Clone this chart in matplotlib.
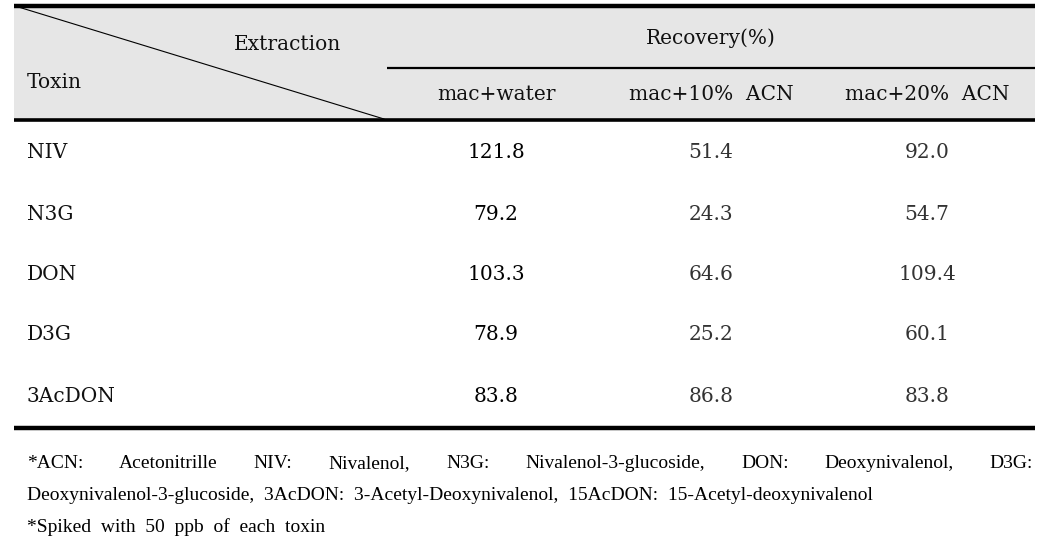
import matplotlib
matplotlib.use("Agg")
import matplotlib.pyplot as plt
from matplotlib.patches import Rectangle

toxins = ["NIV", "N3G", "DON", "D3G", "3AcDON"]
methods = ["mac+water", "mac+10%  ACN", "mac+20%  ACN"]
mac_water = [121.8, 79.2, 103.3, 78.9, 83.8]
mac_10acn = [51.4, 24.3, 64.6, 25.2, 86.8]
mac_20acn = [92.0, 54.7, 109.4, 60.1, 83.8]
header_left_top = "Extraction"
header_left_bottom = "Toxin"
header_group = "Recovery(%)"
foot_line1 = ["*ACN:", "Acetonitrille", "NIV:", "Nivalenol,", "N3G:",
              "Nivalenol-3-glucoside,", "DON:", "Deoxynivalenol,", "D3G:"]
foot_line2 = "Deoxynivalenol-3-glucoside,  3AcDON:  3-Acetyl-Deoxynivalenol,  15AcDON:  15-Acetyl-deoxynivalenol"
foot_line3 = "*Spiked  with  50  ppb  of  each  toxin"

W, H = 1055, 549
fig = plt.figure(figsize=(W / 100, H / 100), dpi=100)
ax = fig.add_axes([0, 0, 1, 1])
ax.set_xlim(0, W)
ax.set_ylim(H, 0)
ax.axis("off")

x0, x1 = 14, 1035
tfont = dict(family="DejaVu Serif", fontsize=14.5)
ffont = dict(family="Liberation Serif", fontsize=14, color="#000000")
dark = "#111111"
grey = "#333333"

# header background
ax.add_patch(Rectangle((x0, 7), x1 - x0, 113, facecolor="#e6e6e6", edgecolor="none"))
# rules
ax.plot([x0, x1], [6, 6], color="black", lw=3.2, solid_capstyle="butt")
ax.plot([387, x1], [67.5, 67.5], color="black", lw=1.6, solid_capstyle="butt")
ax.plot([x0, x1], [119.5, 119.5], color="black", lw=2.6, solid_capstyle="butt")
ax.plot([x0, x1], [428, 428], color="black", lw=3.2, solid_capstyle="butt")
# diagonal
ax.plot([20, 384], [7.5, 119], color="black", lw=0.8)

ax.text(287, 45, header_left_top, ha="center", va="center", color=dark, **tfont)
ax.text(27, 83, header_left_bottom, ha="left", va="center", color=dark, **tfont)
ax.text(711, 38, header_group, ha="center", va="center", color=dark, **tfont)

col_x = [496, 711, 927]
for cx, m in zip(col_x, methods):
    ax.text(cx, 95, m, ha="center", va="center", color=dark, **tfont)

row_y = [152, 214, 274, 335, 396]
cols = [mac_water, mac_10acn, mac_20acn]
for i, (ry, tox) in enumerate(zip(row_y, toxins)):
    ax.text(27, ry, tox, ha="left", va="center", color=dark, **tfont)
    for j, (cx, vals) in enumerate(zip(col_x, cols)):
        ax.text(cx, ry, f"{vals[i]:.1f}", ha="center", va="center",
                color="#000000" if j == 0 else grey, **tfont)

# justified first footnote line
fig.canvas.draw()
r = fig.canvas.get_renderer()
base1, base2, base3 = 468, 500, 532
objs = [ax.text(0, base1, w, ha="left", va="baseline", **ffont) for w in foot_line1]
inv = ax.transData.inverted()
widths = []
for t in objs:
    bb = t.get_window_extent(r)
    p0 = inv.transform((bb.x0, bb.y0))
    p1 = inv.transform((bb.x1, bb.y0))
    widths.append(p1[0] - p0[0])
left = 27
gap = (x1 - 2 - left - sum(widths)) / (len(objs) - 1)
xx = left
for t, w in zip(objs, widths):
    t.set_x(xx)
    xx += w + gap

ax.text(left, base2, foot_line2, ha="left", va="baseline", **ffont)
ax.text(left, base3, foot_line3, ha="left", va="baseline", **ffont)

fig.savefig("out.png", dpi=100, facecolor="white")
